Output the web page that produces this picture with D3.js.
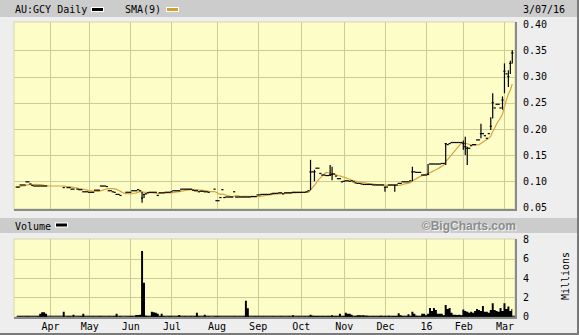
<!DOCTYPE html>
<html>
<head>
<meta charset="utf-8">
<script src="https://cdn.jsdelivr.net/npm/d3@7"></script>
<style>
  body { margin: 0; background: #eeeeee; }
  svg { display: block; }
</style>
</head>
<body>
<div id="chart"></div>
<script>
// 数据：AU:GCY 日线，收盘价（null = 当日无成交）
const closeMar15 = [0.089,0.089,0.093,0.093,0.093,0.099,0.099,0.095,0.092,0.091,0.091,0.091,0.091,0.091,0.091,0.091,null];
const closeApr15 = [null,null,null,null,null,null,null,0.088,null,0.088,0.088,0.085,0.085,null,0.085,0.084,0.084,0.080,0.080,0.080];
const closeMay15 = [0.079,0.079,0.079,0.083,0.083,0.083,0.091,0.091,0.091,0.090,0.082,0.082,0.080,0.079,0.075,0.075,0.073,null,null,0.079,0.079];
const closeJun15 = [0.079,0.082,0.082,0.082,0.084,0.082,0.068,0.075,0.076,0.078,0.079,0.079,0.079,0.079,0.073,0.078,0.078,0.078,0.079,0.079,0.079];
const closeJul15 = [0.080,0.082,0.082,0.082,0.082,0.085,0.085,0.085,0.085,0.085,0.085,0.083,0.082,0.082,0.080,0.081,0.081,0.080,0.080,0.079,null,null,0.085];
const closeAug15 = [0.063,0.063,0.069,0.084,0.069,0.070,0.070,0.070,0.070,0.080,0.070,0.070,0.070,0.070,0.070,0.070,0.070,0.070,0.071,0.071,0.071];
const closeSep15 = [0.074,0.074,0.075,0.075,0.075,0.075,0.075,0.076,0.077,0.077,0.077,0.078,0.078,0.076,0.078,0.078,0.078,0.078,0.079,0.079,0.079,0.079];
const closeOct15 = [0.079,0.079,0.079,0.080,0.082,0.118,0.118,0.118,0.125,0.125,0.115,0.112,0.112,0.111,0.111,0.112,0.113,0.114,0.110,0.105,0.105,0.099];
const closeNov15 = [0.100,0.101,0.101,0.100,0.101,0.099,0.097,0.096,0.096,0.095,0.094,0.094,0.094,0.094,0.094,0.093,0.093,0.093,0.093,0.093,0.093];
const closeDec15 = [0.089,0.089,0.093,0.093,0.093,0.093,0.093,0.096,0.096,0.099,0.099,0.099,0.099,0.101,0.118,0.118,0.117,0.117,0.117,0.112,0.112];
const closeJan16 = [0.112,0.113,0.133,0.133,0.133,0.133,0.133,0.133,0.134,0.134,0.172,0.170,0.172,0.174,0.174,0.174,0.174,0.174,0.174];
const closeFeb16 = [0.172,0.166,0.163,0.163,0.168,0.170,0.170,0.179,0.179,0.191,0.191,0.187,0.182,0.191,0.205,0.250,0.240,0.247,0.247,0.240,0.255];
const closeMar16 = [0.310,0.305,0.300,0.325,0.345];

// 有明显高低幅度的交易日 [日期, 最低, 最高]
const barRanges = [
  ['2015-06-10', 0.059, 0.080], ['2015-06-11', 0.068, 0.076],
  ['2015-10-08', 0.083, 0.141], ['2015-10-12', 0.100, 0.122],
  ['2015-10-22', 0.110, 0.131], ['2015-10-23', 0.102, 0.128],
  ['2015-12-01', 0.080, 0.089], ['2015-12-08', 0.080, 0.093],
  ['2015-12-21', 0.100, 0.128],
  ['2016-01-05', 0.112, 0.133], ['2016-01-18', 0.131, 0.173],
  ['2016-02-01', 0.160, 0.178], ['2016-02-02', 0.150, 0.185],
  ['2016-02-03', 0.131, 0.166], ['2016-02-12', 0.182, 0.210],
  ['2016-02-19', 0.198, 0.222], ['2016-02-22', 0.220, 0.268],
  ['2016-02-29', 0.237, 0.262],
  ['2016-03-01', 0.268, 0.325], ['2016-03-03', 0.280, 0.312],
  ['2016-03-04', 0.305, 0.330], ['2016-03-07', 0.325, 0.350]
];

// 成交量（百万股）
const volMar15 = [0.03,0.03,0.04,0.03,0.03,0.04,0.04,0.03,0.03,0.03,0.03,0.05,0.3,0.45,0.45,0.3,0];
const volApr15 = [0,0,0,0,0,0,0,0.5,0,0.04,0.04,0.03,0.2,0,0.03,0.03,0.04,0.3,0.03,0.03];
const volMay15 = [0.03,0.03,0.04,0.03,0.03,0.04,0.05,0.03,0.03,0.03,0.04,0.03,0.03,0.04,0.3,0.03,0.04,0,0,0.03,0.03];
const volJun15 = [0.04,0.04,0.03,0.18,0.18,0.2,6.8,3.5,0.1,0.05,0.05,0.5,0.45,0.4,0.3,0.04,0.3,0.04,0.03,0.03,0.04];
const volJul15 = [0.04,0.03,0.03,0.04,0.18,0.03,0.03,0.04,0.03,0.03,0.04,0.03,0.05,0.4,0.04,0.03,0.03,0.2,0.03,0.04,0,0,0.05];
const volAug15 = [0.04,0.04,0.03,0.03,0.03,0.03,0.03,0.03,0.03,0.04,0.03,0.03,0.03,0.03,0.04,1.65,0.88,0.03,0.03,0.03,0.04];
const volSep15 = [0.03,0.03,0.03,0.04,0.03,0.03,0.03,0.03,0.04,0.03,0.03,0.03,0.04,0.03,0.03,0.03,0.04,0.03,0.15,0.03,0.03,0.04];
const volOct15 = [0.03,0.03,0.04,0.03,0.05,0.2,0.1,0.06,0.08,0.06,0.05,0.06,0.05,0.05,0.06,0.05,0.15,0.05,0.06,0.05,0.3,0.05];
const volNov15 = [0.06,0.4,0.3,0.3,0.2,0.05,0.06,0.15,0.15,0.12,0.15,0.1,0.1,0.05,0.05,0.06,0.05,0.05,0.06,0.1,0.05];
const volDec15 = [0.06,0.05,0.1,0.05,0.06,0.08,0.06,0.35,0.15,0.06,0.05,0.06,0.25,0.08,0.5,0.3,0.1,0.06,0.08,0.3,0.3];
const volJan16 = [0.15,0.3,0.9,0.6,0.9,0.7,0.3,0.3,0.3,0.15,1.2,0.8,0.9,0.4,0.2,0.2,0.18,0.2,0.15];
const volFeb16 = [0.75,0.6,0.5,0.4,0.5,0.4,0.6,0.8,0.7,0.6,1.1,0.5,0.5,0.4,0.7,1.4,0.7,0.6,0.5,0.9,0.6];
const volMar16 = [1.4,0.8,1.05,0.6,0.8];

const priceTicks = [0.05, 0.10, 0.15, 0.20, 0.25, 0.30, 0.35, 0.40];
const volTicks = [0, 2, 4, 6, 8];
const monthLabels = ['Apr','May','Jun','Jul','Aug','Sep','Oct','Nov','Dec','16','Feb','Mar'];
const holidays = ['2015-04-03','2015-04-06','2015-06-08','2015-12-25','2015-12-28','2016-01-01','2016-01-26'];
const smaPeriod = 9;

// 交易日序列
const fmt = d3.timeFormat('%Y-%m-%d');
const dates = d3.timeDay.range(new Date(2015, 2, 9), new Date(2016, 2, 8))
  .filter(d => d.getDay() !== 0 && d.getDay() !== 6 && !holidays.includes(fmt(d)));

const closes = [].concat(closeMar15, closeApr15, closeMay15, closeJun15, closeJul15, closeAug15,
  closeSep15, closeOct15, closeNov15, closeDec15, closeJan16, closeFeb16, closeMar16);
const vols = [].concat(volMar15, volApr15, volMay15, volJun15, volJul15, volAug15,
  volSep15, volOct15, volNov15, volDec15, volJan16, volFeb16, volMar16);
const rangeMap = new Map(barRanges.map(r => [r[0], r]));

let last = null;
const data = dates.map((d, i) => {
  const key = fmt(d);
  const c = closes[i];
  if (c != null) last = c;
  const r = rangeMap.get(key);
  return { key, date: d, close: c, filled: last, vol: vols[i] || 0,
           low: r ? r[1] : c, high: r ? r[2] : c };
});
// SMA(9)
data.forEach((d, i) => {
  const win = data.slice(Math.max(0, i - smaPeriod + 1), i + 1);
  d.sma = d3.mean(win, w => w.filled);
});

const W = 579, H = 335;
const plotL = 14, plotR = 515;
const svg = d3.select('#chart').append('svg')
  .attr('width', W).attr('height', H)
  .style('font-family', '"DejaVu Sans Mono", monospace')
  .style('font-size', '10px');

svg.append('rect').attr('width', W).attr('height', H).attr('fill', '#eeeeee');

// 比例尺
const x = d3.scalePoint().domain(data.map(d => d.key)).range([16.7, 512.3]);
const yP = d3.scaleLinear().domain([0.05, 0.40]).range([207.5, 24.1]);
const yV = d3.scaleLinear().domain([0, 8]).range([316.7, 239.3]);

// 每月第一个交易日
const monthStarts = data.filter((d, i) => i > 0 && d.date.getMonth() !== data[i - 1].date.getMonth());

// 顶部标题栏
svg.append('rect').attr('x', 0).attr('y', 0).attr('width', W).attr('height', 17).attr('fill', '#cccccc');
svg.append('text').attr('x', 15).attr('y', 12.5).text('AU:GCY Daily');
svg.append('rect').attr('x', 91).attr('y', 7).attr('width', 13).attr('height', 5).attr('fill', '#fff');
svg.append('rect').attr('x', 92).attr('y', 8).attr('width', 11).attr('height', 3).attr('fill', '#000');
svg.append('text').attr('x', 125).attr('y', 12.5).text('SMA(9)');
svg.append('rect').attr('x', 166).attr('y', 7).attr('width', 13).attr('height', 5).attr('fill', '#fff');
svg.append('rect').attr('x', 167).attr('y', 8).attr('width', 11).attr('height', 3).attr('fill', '#d4a030');
svg.append('text').attr('x', 523).attr('y', 12.5).text('3/07/16');

// 成交量标题栏
svg.append('rect').attr('x', 0).attr('y', 218).attr('width', W).attr('height', 15).attr('fill', '#cccccc');
svg.append('text').attr('x', 15).attr('y', 229.5).text('Volume');
svg.append('rect').attr('x', 55).attr('y', 222.5).attr('width', 13).attr('height', 5).attr('fill', '#fff');
svg.append('rect').attr('x', 56).attr('y', 223.5).attr('width', 11).attr('height', 3).attr('fill', '#000');
const brand = svg.append('g').style('font-family', '"Liberation Sans", Arial, sans-serif')
  .style('font-size', '12px').style('font-weight', 'bold').attr('text-anchor', 'end');
brand.append('text').attr('x', 517).attr('y', 230.5).attr('fill', '#f4f4f4').text('©BigCharts.com');
brand.append('text').attr('x', 516).attr('y', 229.5).attr('fill', '#8c8c8c').text('©BigCharts.com');

// 面板底色 + 网格
function panel(top, bottom, yScale, gridVals) {
  svg.append('rect').attr('x', plotL).attr('y', top).attr('width', plotR - plotL).attr('height', bottom - top)
    .attr('fill', '#fdfdc8').attr('stroke', '#d8d8a8').attr('stroke-width', 1);
  const g = svg.append('g').attr('stroke', '#cccc99').attr('stroke-width', 1).attr('shape-rendering', 'crispEdges');
  g.selectAll('line.h').data(gridVals).enter().append('line')
    .attr('x1', plotL).attr('x2', plotR)
    .attr('y1', d => Math.round(yScale(d)) + 0.5).attr('y2', d => Math.round(yScale(d)) + 0.5);
  g.selectAll('line.v').data(monthStarts).enter().append('line')
    .attr('x1', d => Math.round(x(d.key)) + 0.5).attr('x2', d => Math.round(x(d.key)) + 0.5)
    .attr('y1', top).attr('y2', bottom);
  // 右、下阴影边
  svg.append('path').attr('d', `M${plotR + 1},${top} V${bottom + 1} H${plotL}`)
    .attr('fill', 'none').attr('stroke', '#8a8a8a').attr('stroke-width', 2);
}
panel(22, 209, yP, [0.10, 0.15, 0.20, 0.25, 0.30, 0.35]);
panel(239, 317, yV, [2, 4, 6]);

// SMA 线
svg.append('path').datum(data)
  .attr('d', d3.line().x(d => x(d.key)).y(d => yP(d.sma)))
  .attr('fill', 'none').attr('stroke', '#d9a33c').attr('stroke-width', 1.2);

// 价格柱（高低线 + 收盘横线）
const traded = data.filter(d => d.close != null);
const bars = svg.append('g').attr('stroke', '#000').attr('stroke-width', 1.2).attr('fill', 'none');
bars.selectAll('line.hl').data(traded.filter(d => d.high !== d.low)).enter().append('line')
  .attr('x1', d => x(d.key)).attr('x2', d => x(d.key))
  .attr('y1', d => yP(d.low)).attr('y2', d => yP(d.high));
bars.selectAll('line.c').data(traded).enter().append('line')
  .attr('x1', d => x(d.key) - 1.1).attr('x2', d => x(d.key) + 1.1)
  .attr('y1', d => yP(d.close)).attr('y2', d => yP(d.close));

// 成交量
svg.append('path').datum(data)
  .attr('d', d3.area().x(d => x(d.key)).y0(yV(0)).y1(d => yV(d.vol)).curve(d3.curveStep))
  .attr('fill', '#000');
svg.append('line').attr('x1', x(data[0].key)).attr('x2', plotR)
  .attr('y1', yV(0) - 0.5).attr('y2', yV(0) - 0.5).attr('stroke', '#000').attr('stroke-width', 1);

// 右侧坐标轴
const fmtP = d3.format('.2f');
svg.append('g').attr('transform', `translate(${plotR},0)`)
  .call(d3.axisRight(yP).tickValues(priceTicks).tickFormat(fmtP).tickSize(0).tickPadding(8))
  .call(g => g.select('.domain').remove())
  .call(g => g.selectAll('text').attr('fill', '#000')
    .style('font-family', '"DejaVu Sans Mono", monospace').style('font-size', '10px'));
svg.append('g').attr('transform', `translate(${plotR},0)`)
  .call(d3.axisRight(yV).tickValues(volTicks).tickFormat(d3.format('d')).tickSize(0).tickPadding(8))
  .call(g => g.select('.domain').remove())
  .call(g => g.selectAll('text').attr('fill', '#000')
    .style('font-family', '"DejaVu Sans Mono", monospace').style('font-size', '10px'));
svg.append('text').attr('transform', 'translate(569,276) rotate(-90)')
  .attr('text-anchor', 'middle').text('Millions');

// 月份标签
svg.append('g').attr('transform', 'translate(0,317)')
  .call(d3.axisBottom(x).tickValues(monthStarts.map(d => d.key))
    .tickFormat((k, i) => monthLabels[i]).tickSize(0).tickPadding(6))
  .call(g => g.select('.domain').remove())
  .call(g => g.selectAll('text').attr('fill', '#000')
    .style('font-family', '"DejaVu Sans Mono", monospace').style('font-size', '10px'));

// 外框
svg.append('path').attr('d', `M${W - 1},0 V${H - 1} H0`).attr('fill', 'none')
  .attr('stroke', '#7a7a7a').attr('stroke-width', 2);
</script>
</body>
</html>
